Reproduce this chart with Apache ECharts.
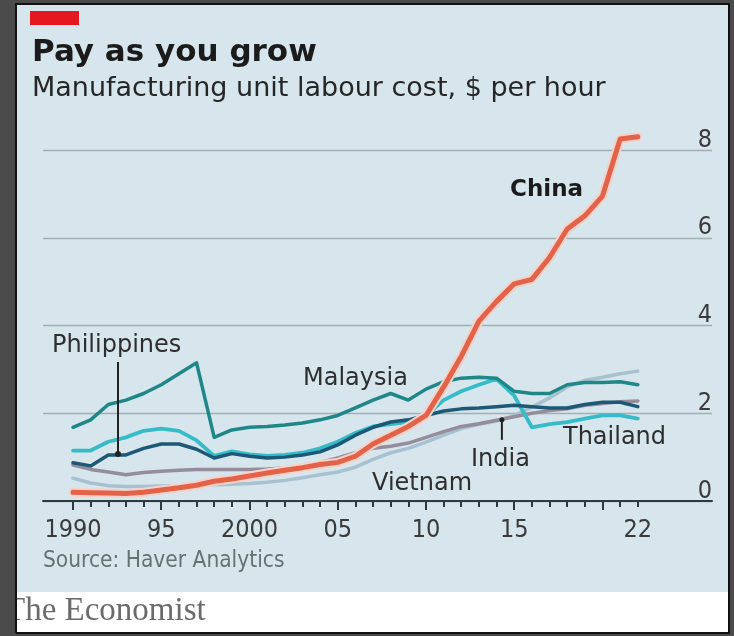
<!DOCTYPE html>
<html>
<head>
<meta charset="utf-8">
<script src="https://cdn.jsdelivr.net/npm/echarts@6/dist/echarts.min.js"></script>
<style>
html,body{margin:0;padding:0;background:#4b4b4b;}
#chart{width:734px;height:636px;}
</style>
</head>
<body>
<div id="chart"></div>
<script>
const years = [1990,1991,1992,1993,1994,1995,1996,1997,1998,1999,2000,2001,2002,2003,2004,2005,2006,2007,2008,2009,2010,2011,2012,2013,2014,2015,2016,2017,2018,2019,2020,2021,2022];
const china = [0.20,0.19,0.18,0.17,0.20,0.25,0.30,0.36,0.45,0.50,0.57,0.64,0.70,0.76,0.83,0.88,1.02,1.30,1.50,1.70,1.95,2.60,3.30,4.10,4.55,4.95,5.05,5.55,6.20,6.50,6.95,8.25,8.30];
const malaysia = [1.68,1.85,2.20,2.30,2.45,2.65,2.90,3.15,1.45,1.62,1.68,1.70,1.73,1.78,1.85,1.95,2.12,2.30,2.45,2.30,2.55,2.72,2.80,2.82,2.80,2.50,2.45,2.45,2.65,2.70,2.70,2.72,2.65];
const philippines = [0.87,0.80,1.05,1.05,1.20,1.30,1.30,1.18,0.98,1.08,1.02,0.98,1.00,1.05,1.12,1.28,1.50,1.68,1.80,1.85,1.95,2.05,2.10,2.12,2.15,2.18,2.15,2.12,2.12,2.20,2.25,2.25,2.15];
const thailand = [1.15,1.15,1.35,1.45,1.60,1.65,1.60,1.38,1.03,1.13,1.06,1.03,1.05,1.10,1.20,1.35,1.55,1.70,1.75,1.80,1.95,2.30,2.50,2.65,2.78,2.40,1.68,1.75,1.80,1.88,1.95,1.95,1.88];
const india = [0.82,0.72,0.66,0.60,0.65,0.68,0.70,0.72,0.72,0.72,0.72,0.73,0.75,0.80,0.88,0.98,1.10,1.20,1.25,1.32,1.45,1.58,1.70,1.76,1.84,1.92,2.00,2.06,2.10,2.18,2.22,2.26,2.28];
const vietnam = [0.52,0.41,0.35,0.33,0.33,0.34,0.35,0.36,0.37,0.38,0.40,0.43,0.47,0.53,0.60,0.66,0.77,0.95,1.10,1.20,1.34,1.50,1.65,1.75,1.82,1.95,2.14,2.35,2.60,2.75,2.82,2.90,2.96];
const xTickLabels = {1990:'1990',1995:'95',2000:'2000',2005:'05',2010:'10',2015:'15',2022:'22'};
const majorYears = [1990,1995,2000,2005,2010,2015,2020];
const yTicks = [0,2,4,6,8];

const pair = arr => years.map((y,i)=>[y,arr[i]]);
const SANS = "'DejaVu Sans', 'Open Sans', sans-serif";
const NARROW = "'Liberation Sans Narrow', 'DejaVu Sans Condensed', sans-serif";
const AX = '#2c3b41';

const chart = echarts.init(document.getElementById('chart'), null, {renderer:'canvas'});
const gTop = 150, gBottom = 135;
const line = (name, data, color, width, z) => ({
  name, type:'line', xAxisIndex:1, yAxisIndex:1, data:pair(data), showSymbol:false, symbol:'none', clip:false,
  lineStyle:{color, width, cap:'round', join:'round'}, z, silent:true, animation:false
});
const tickAxis = (gridIndex, values, len) => ({
  gridIndex, type:'value', min:1988.3, max:2026.21, position:'top', z:100,
  axisLine:{show:false, onZero:false},
  axisTick:{show:true, inside:true, customValues:values, length:len, lineStyle:{color:AX, width:2}},
  axisLabel:{show:false}, splitLine:{show:false}
});
const option = {
  backgroundColor:'#4b4b4b',
  animation:false,
  grid:[
    {left:43, right:22, top:gTop, bottom:gBottom},
    {left:73, right:96.2, top:gTop, bottom:gBottom},
    {left:43, right:22, top:501, height:10},
    {left:43, right:22, top:501, height:10}
  ],
  xAxis:[
    {gridIndex:0, type:'value', min:1988.3, max:2026.21, axisLine:{show:true, lineStyle:{color:AX, width:2}},
      axisTick:{show:false}, axisLabel:{show:false}, splitLine:{show:false}},
    {gridIndex:1, type:'value', min:1990, max:2022, interval:1,
      axisLine:{show:false}, axisTick:{show:false},
      axisLabel:{show:true, margin:17, fontFamily:NARROW, fontSize:25, color:'#3a3a3a', showMinLabel:true, showMaxLabel:true,
        formatter:v => xTickLabels[v] || ''},
      splitLine:{show:false}},
    tickAxis(2, years, 6),
    tickAxis(3, majorYears, 9)
  ],
  yAxis:[
    {gridIndex:0, type:'value', min:0, max:8, interval:2, position:'right',
      axisLine:{show:false}, axisTick:{show:false},
      axisLabel:{show:true, inside:true, margin:0, verticalAlign:'bottom', lineHeight:18, padding:[0,0,1,0], fontFamily:NARROW, fontSize:25, color:'#3a3a3a',
        formatter:v => yTicks.includes(v) ? String(v) : ''},
      splitLine:{show:true, lineStyle:{color:'#a2b0b6', width:1.3}}},
    {gridIndex:1, type:'value', min:0, max:8, interval:2, show:false},
    {gridIndex:2, type:'value', min:0, max:1, show:false},
    {gridIndex:3, type:'value', min:0, max:1, show:false}
  ],
  series:[
    line('Vietnam', vietnam, '#a8c1d0', 3.5, 2),
    line('India', india, '#958c9c', 3.5, 3),
    line('Thailand', thailand, '#35bcc8', 3.8, 4),
    line('Philippines', philippines, '#1d5876', 3.5, 5),
    line('Malaysia', malaysia, '#1f8788', 3.5, 6),
    line('ChinaHalo', china, '#f6d2c8', 9, 7),
    line('China', china, '#e2624a', 5, 8)
  ]
};
chart.setOption(option);

// annotation anchors (data coordinates)
const phDot = chart.convertToPixel({gridIndex:1}, [1992.55, 1.07]);
const inDot = chart.convertToPixel({gridIndex:1}, [2014.3, 1.85]);

const txt = (text, x, y, size, opts={}) => ({
  type:'text', left:x, top:y, z:50, silent:true,
  style:Object.assign({text, fontFamily:SANS, fontSize:size, fill:'#2e2e2e'}, opts)
});

chart.setOption({graphic:[
  {type:'rect', shape:{x:16, y:4, width:713, height:629}, style:{fill:'#d6e6ec', stroke:'#111', lineWidth:2}, z:-10, silent:true},
  {type:'rect', shape:{x:17, y:592, width:711, height:40}, style:{fill:'#ffffff'}, z:-9, silent:true},
  {type:'rect', shape:{x:30, y:11, width:49, height:14}, style:{fill:'#e3191f'}, z:-8, silent:true},
  txt('Pay as you grow', 32, 37, 31, {fontWeight:'bold', fill:'#1b1b1b'}),
  txt('Manufacturing unit labour cost, $ per hour', 32, 75, 27, {fill:'#262626'}),
  txt('Philippines', 52, 334, 24),
  txt('Malaysia', 303, 367, 24),
  txt('China', 510, 179, 23, {fontWeight:'bold', fill:'#1b1b1b'}),
  txt('Thailand', 563, 426, 24),
  txt('India', 471, 448, 24),
  txt('Vietnam', 372, 472, 24),
  txt('Source: Haver Analytics', 43, 550, 22.5, {fill:'#687074', fontFamily:NARROW}),
  {type:'line', shape:{x1:phDot[0], y1:362, x2:phDot[0], y2:phDot[1]}, style:{stroke:'#222', lineWidth:2}, z:40, silent:true},
  {type:'circle', shape:{cx:phDot[0], cy:phDot[1], r:3}, style:{fill:'#222'}, z:41, silent:true},
  {type:'line', shape:{x1:inDot[0], y1:inDot[1], x2:inDot[0], y2:inDot[1]+20}, style:{stroke:'#222', lineWidth:2}, z:40, silent:true},
  {type:'circle', shape:{cx:inDot[0], cy:inDot[1], r:2.5}, style:{fill:'#222'}, z:41, silent:true},
  {type:'text', left:5, top:595, z:30, silent:true, style:{text:'The Economist', fontFamily:"'Liberation Serif', 'DejaVu Serif', serif", fontSize:33, fill:'#6b6b6b'}},
  {type:'rect', shape:{x:0, y:560, width:16, height:76}, style:{fill:'#4b4b4b'}, z:35, silent:true},
  {type:'line', shape:{x1:16, y1:560, x2:16, y2:633}, style:{stroke:'#111', lineWidth:2}, z:36, silent:true}
]});
</script>
</body>
</html>
